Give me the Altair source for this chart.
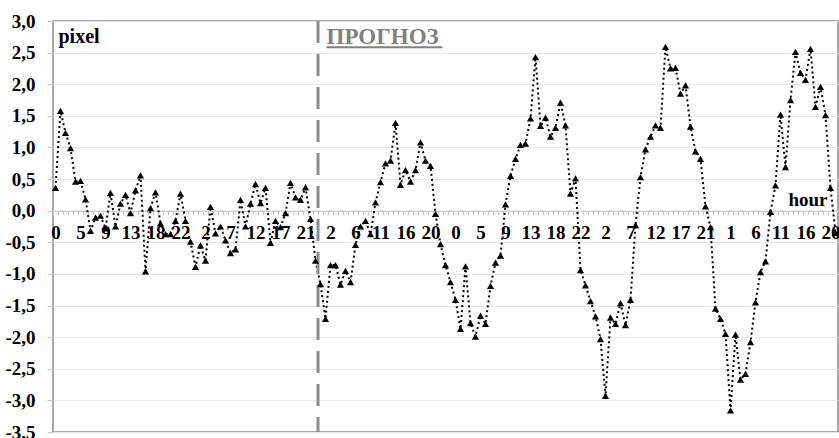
import altair as alt
import pandas as pd

# ---- data -------------------------------------------------------------------
values = [
    0.36, 1.58, 1.23, 0.99, 0.46, 0.47, 0.18, -0.32, -0.11, -0.08,
    -0.28, 0.28, -0.25, 0.11, 0.25, -0.04, 0.32, 0.56, -0.96, 0.04,
    0.29, -0.20, -0.37, -0.37, -0.16, 0.27, -0.16, -0.49, -0.89, -0.55,
    -0.79, 0.06, -0.36, -0.25, -0.47, -0.67, -0.61, 0.17, -0.25, 0.11,
    0.42, 0.12, 0.36, -0.51, -0.16, -0.26, -0.04, 0.44, 0.21, 0.17,
    0.37, -0.13, -0.79, -1.16, -1.71, -0.86, -0.86, -1.17, -0.95, -1.13,
    -0.54, -0.25, -0.16, -0.37, 0.13, 0.45, 0.75, 0.79, 1.39, 0.41,
    0.64, 0.46, 0.64, 1.08, 0.79, 0.71, -0.05, -0.53, -0.86, -1.13,
    -1.41, -1.87, -0.88, -1.78, -1.99, -1.66, -1.79, -1.19, -0.82, -0.71,
    0.10, 0.55, 0.82, 1.04, 1.06, 1.46, 2.43, 1.34, 1.47, 1.17,
    1.31, 1.71, 1.35, 0.27, 0.51, -0.94, -1.18, -1.43, -1.67, -2.03,
    -2.93, -1.69, -1.79, -1.46, -1.81, -1.41, -0.23, 0.53, 0.97, 1.17,
    1.35, 1.31, 2.59, 2.25, 2.26, 1.85, 1.98, 1.33, 0.94, 0.82,
    0.07, -0.26, -1.55, -1.71, -1.95, -3.16, -1.96, -2.67, -2.58, -2.08,
    -1.45, -0.97, -0.80, -0.02, 0.40, 1.52, 0.69, 1.75, 2.51, 2.18,
    2.07, 2.56, 1.64, 1.96, 1.51, 0.36, -0.35,
]
hour_labels = ["0", "5", "9", "13", "18", "22", "2", "7", "12", "17", "21",
               "2", "6", "11", "16", "20", "0", "5", "9", "13", "18", "22",
               "2", "7", "12", "17", "21", "1", "6", "11", "16", "20"]
y_ticks = [-3.5, -3.0, -2.5, -2.0, -1.5, -1.0, -0.5, 0.0, 0.5, 1.0, 1.5, 2.0, 2.5, 3.0]
forecast_start = 53          # first forecast point index
label_every = 5

n = len(values)
df = pd.DataFrame({"i": list(range(n)), "v": values})

W, H = 785, 411
ymin, ymax = -3.5, 3.0
step = W / n
FONT = "Liberation Serif"

x_scale = alt.Scale(domain=[-0.5, n - 0.5], nice=False, zero=False)
y_scale = alt.Scale(domain=[ymin, ymax], nice=False, zero=False)

label_arr = "[" + ",".join(f"'{h}'" for h in hour_labels) + "]"
x_axis = alt.Axis(
    values=list(range(n)),
    labelExpr=f"datum.value % {label_every} == 0 ? {label_arr}[datum.value / {label_every}] : ''",
    offset=-H * (0 - ymin) / (ymax - ymin),
    grid=False, domainColor="#c4c4c4", domainWidth=1,
    tickColor="#c4c4c4", tickSize=4, tickWidth=1,
    tickOffset=-step / 2, labelOffset=step / 2,
    labelFont=FONT, labelFontWeight="bold", labelFontSize=19,
    labelColor="black", labelPadding=9, labelOverlap=False, labelFlush=False,
    labelBound=False, title=None,
)
y_axis = alt.Axis(
    values=y_ticks,
    labelExpr="(datum.value < 0 ? '-' : '') + replace(format(abs(datum.value), '.1f'), '.', ',')",
    grid=True, gridColor="#e6e6e6", gridWidth=1,
    domain=False, tickColor="#c4c4c4", tickSize=6,
    labelFont=FONT, labelFontWeight="bold", labelFontSize=19,
    labelColor="black", labelPadding=12, labelOverlap=False, labelFlush=False,
    title=None,
)


def X(v):
    return alt.XDatum(v, scale=x_scale, axis=x_axis)


def Y(v):
    return alt.YDatum(v, scale=y_scale, axis=y_axis)


base = alt.Chart(df)

line = base.mark_line(color="black", strokeWidth=2, strokeDash=[2, 3]).encode(
    x=alt.X("i:Q", scale=x_scale, axis=x_axis),
    y=alt.Y("v:Q", scale=y_scale, axis=y_axis),
)
points = base.mark_point(shape="triangle-up", filled=True, color="black",
                         size=52, opacity=1).encode(
    x=alt.X("i:Q", scale=x_scale, axis=x_axis),
    y=alt.Y("v:Q", scale=y_scale, axis=y_axis),
)

divider = alt.Chart().mark_rule(color="#8c8c8c", strokeWidth=3,
                                strokeDash=[22, 11]).encode(
    x=X(forecast_start - 0.5),
)

txt_pixel = alt.Chart().mark_text(text="pixel", font=FONT, fontWeight="bold",
                                  fontSize=20, align="left", baseline="alphabetic",
                                  color="black").encode(x=X(0.6), y=Y(2.65))
txt_prog = alt.Chart().mark_text(text="ПРОГНОЗ", font=FONT, fontWeight="bold",
                                 fontSize=23, align="left", baseline="alphabetic",
                                 color="#808080").encode(x=X(54.2), y=Y(2.64))
underline = alt.Chart().mark_rule(color="#808080", strokeWidth=2).encode(
    x=X(54.2), x2=alt.datum(77.4), y=Y(2.585))
txt_hour = alt.Chart().mark_text(text="hour", font=FONT, fontWeight="bold",
                                 fontSize=19, align="right", baseline="alphabetic",
                                 color="black").encode(x=X(154.4), y=Y(0.07))

chart = alt.layer(
    line, divider, points, txt_pixel, txt_prog, underline, txt_hour
).properties(
    width=W, height=H,
    autosize=alt.AutoSizeParams(type="none"),
    padding={"left": 53, "top": 21, "right": 1, "bottom": 6},
    background="white",
).configure_view(
    stroke="#8a8a8a", strokeWidth=1.5
).configure_axis(
    labelOverlap=False
)

chart.save("out.html", embed_options={"renderer": "svg", "actions": False})
